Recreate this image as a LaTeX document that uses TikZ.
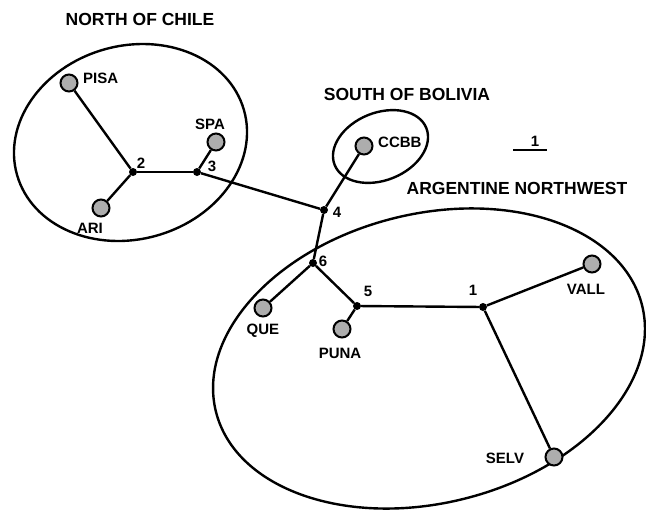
\documentclass[tikz,border=0pt]{standalone}
\usepackage{fontspec}
\setmainfont{Liberation Sans}
\begin{document}
\begin{tikzpicture}[x=1pt,y=-1pt,
  leaf/.style={circle,draw=black,line width=2pt,fill=black!32,minimum size=17pt,inner sep=0pt},
  junc/.style={circle,fill=black,minimum size=8pt,inner sep=0pt},
  edge/.style={line width=2.4pt},
  region/.style={line width=2.4pt},
  lbl/.style={font=\fontsize{15}{18}\selectfont\bfseries,inner sep=0pt},
  ttl/.style={font=\fontsize{17.5}{21}\selectfont\bfseries,inner sep=0pt}]
\useasboundingbox (0,0) rectangle (646,512);
% regions
\draw[region,rotate around={16:(130.5,142.5)}] (130.5,142.5) ellipse [x radius=118pt,y radius=96.7pt];
\draw[region,rotate around={22:(380.5,146.5)}] (380.5,146.5) ellipse [x radius=49.4pt,y radius=33.8pt];
\draw[region,rotate around={14:(429,358.5)}] (429,358.5) ellipse [x radius=219.6pt,y radius=144.6pt];
% nodes
\node[leaf] (pisa) at (69,83) {};
\node[leaf] (spa) at (216,142) {};
\node[leaf] (ari) at (101,208) {};
\node[leaf] (ccbb) at (364,146) {};
\node[leaf] (que) at (263,308) {};
\node[leaf] (puna) at (342,329) {};
\node[leaf] (vall) at (592,264) {};
\node[leaf] (selv) at (554,457) {};
\node[junc] (n2) at (133,172) {};
\node[junc] (n3) at (197,172) {};
\node[junc] (n4) at (324,210) {};
\node[junc] (n6) at (313,263) {};
\node[junc] (n5) at (357,306) {};
\node[junc] (n1) at (483,307) {};
% edges
\draw[edge] (pisa) -- (n2);
\draw[edge] (ari) -- (n2);
\draw[edge] (n2) -- (n3);
\draw[edge] (n3) -- (spa);
\draw[edge] (n3) -- (n4);
\draw[edge] (n4) -- (ccbb);
\draw[edge] (n4) -- (n6);
\draw[edge] (n6) -- (que);
\draw[edge] (n6) -- (n5);
\draw[edge] (n5) -- (puna);
\draw[edge] (n5) -- (n1);
\draw[edge] (n1) -- (vall);
\draw[edge] (n1) -- (selv);
% labels
\node[lbl,anchor=west] (lpisa) at (83,78) {PISA};
\node[lbl] (lspa) at (210,124) {SPA};
\node[lbl] (lari) at (90,228) {ARI};
\node[lbl,anchor=west] (lccbb) at (378,142) {CCBB};
\node[lbl] (lque) at (263,331) {QUE};
\node[lbl] (lpuna) at (340,353) {PUNA};
\node[lbl] (lvall) at (586,289) {VALL};
\node[lbl] (lselv) at (505,458) {SELV};
\node[lbl] (l2) at (141,163) {2};
\node[lbl] (l3) at (212,166) {3};
\node[lbl] (l4) at (337,212) {4};
\node[lbl] (l6) at (323,261) {6};
\node[lbl] (l5) at (368,291) {5};
\node[lbl] (l1) at (473,290) {1};
% scale bar
\coordinate (sbA) at (513,150);
\coordinate (sbB) at (547,150);
\draw[line width=2pt] (sbA) -- (sbB);
\node[lbl] (lsb) at (535,141) {1};
% titles
\node[ttl] (tchile) at (140,19) {NORTH OF CHILE};
\node[ttl] (tbol) at (407,94) {SOUTH OF BOLIVIA};
\node[ttl] (targ) at (517,188) {ARGENTINE NORTHWEST};
\end{tikzpicture}
\end{document}
